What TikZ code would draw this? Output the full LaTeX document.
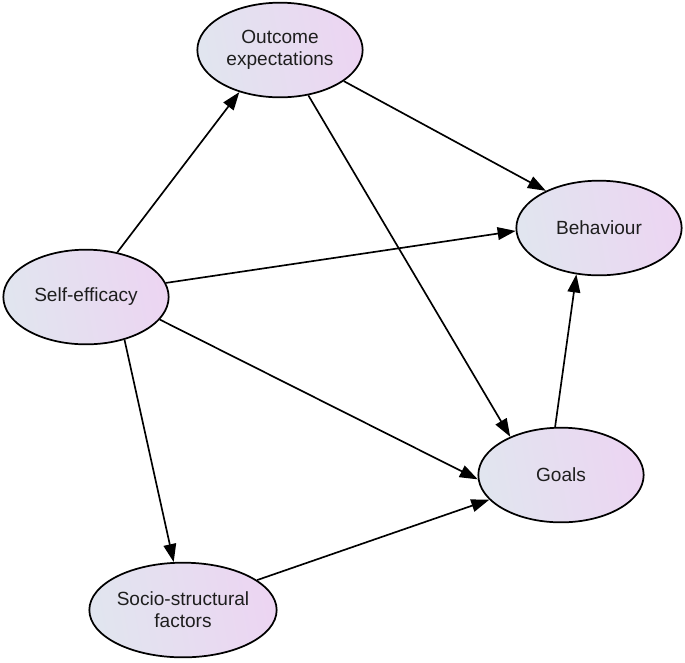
\documentclass[tikz,border=0pt]{standalone}
\usepackage{fontspec}
\setmainfont{Liberation Sans}
\usetikzlibrary{arrows.meta,shapes.geometric}
\definecolor{shadeL}{HTML}{E1E5EF}
\definecolor{shadeR}{HTML}{ECD5F2}
\definecolor{ink}{HTML}{1E1E1E}

\begin{document}
\begin{tikzpicture}[x=0.75pt, y=-0.75pt,
    font=\fontsize{14.3}{16.5}\selectfont,
    factor/.style={ellipse, draw=black, line width=1.3pt, left color=shadeL,
      right color=shadeR, shading angle=100, minimum width=124pt, minimum height=71pt,
      inner sep=0pt, align=center, text=ink},
    edge/.style={line width=1.25pt, -{Triangle[length=13.5pt,width=9.5pt]}}]
    \useasboundingbox (0,0) rectangle (685,662);
    \node[factor] (outc)  at (280,50)  {Outcome\\expectations};
    \node[factor] (self)  at (86,297)  {Self-efficacy};
    \node[factor] (behav) at (599,228) {Behaviour};
    \node[factor] (goals) at (561,475) {Goals};
    \node[factor] (socio) at (183,610) {Socio-structural\\factors};
    \foreach \a/\b in {self.55/outc.226, outc.334/behav.145, self.10/behav.182,
        outc.302/goals.143, self.343/goals.183, self.312/socio.101,
        socio.22/goals.199, goals.97/behav.244} {
      \draw[edge] (\a) -- (\b);
    }
\end{tikzpicture}
\end{document}
